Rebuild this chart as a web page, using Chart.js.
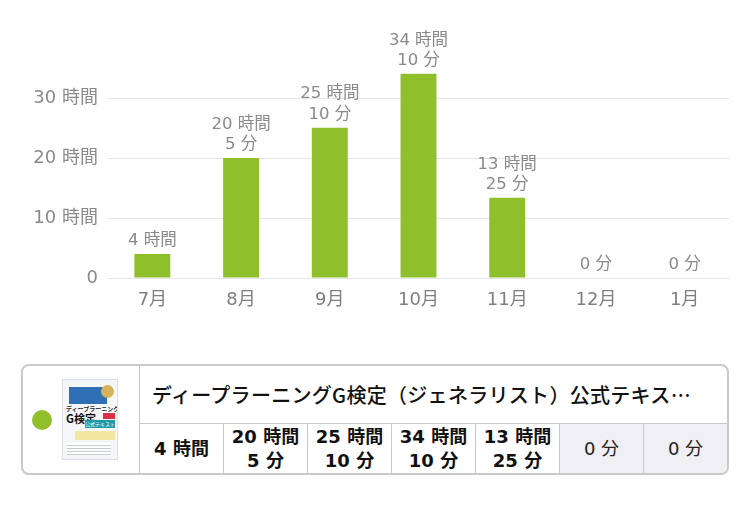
<!DOCTYPE html>
<html lang="ja">
<head>
<meta charset="utf-8">
<script src="https://cdn.jsdelivr.net/npm/chart.js@4"></script>
<style>
  html, body { margin: 0; padding: 0; background: #fff; }
  body { width: 750px; height: 506px; position: relative; overflow: hidden;
         font-family: "DejaVu Sans", "Noto Sans CJK JP", sans-serif; }
  #wrap { position: absolute; left: 0; top: 0; width: 750px; height: 330px; }
  .card { position: absolute; left: 21px; top: 364px; width: 704px; height: 107px;
          border: 2px solid #c9c9c9; border-radius: 8px; overflow: hidden; }
  .dot { position: absolute; left: 9px; top: 44px; width: 20px; height: 20px;
         border-radius: 50%; background: #8fc02c; }
  .cover { position: absolute; left: 39px; top: 13px; width: 56px; height: 81px;
           background: #f4f6f8; border: 1px solid #dde; box-sizing: border-box; overflow: hidden;
           font-family: "Noto Sans CJK JP", sans-serif; }
  .cover .blue { position: absolute; left: 6px; top: 7px; width: 38px; height: 17px; background: #2f6fb4; }
  .cover .gold { position: absolute; left: 38px; top: 5px; width: 13px; height: 13px; border-radius: 50%; background: #d6b35a; }
  .cover .t1 { position: absolute; left: 3px; top: 24px; font-size: 6px; font-weight: bold; white-space: nowrap; color: #222; }
  .cover .t2 { position: absolute; left: 3px; top: 30px; font-size: 11px; font-weight: bold; color: #111; }
  .cover .teal { position: absolute; left: 22px; top: 40px; width: 30px; height: 8px; background: #1f9aa5;
                 color: #fff; font-size: 5px; line-height: 8px; text-align: center; }
  .cover .red { position: absolute; left: 40px; top: 33px; width: 12px; height: 6px; background: #d9314a; }
  .cover .yel { position: absolute; left: 12px; top: 51px; width: 40px; height: 9px; background: #f3e6a0; }
  .cover .lines { position: absolute; left: 4px; top: 63px; width: 44px; height: 12px;
                  background: repeating-linear-gradient(#fff 0 2px, #c9cdd3 2px 3px); }
  .right { position: absolute; left: 116px; top: 0; right: 0; bottom: 0; border-left: 1px solid #c9c9c9; }
  .title { height: 57px; line-height: 57px; padding-left: 12px; padding-right: 28px; font-size: 20px;
           letter-spacing: 0.3px; font-weight: 500; color: #111; white-space: nowrap; overflow: hidden;
           text-overflow: ellipsis; border-bottom: 1px solid #c9c9c9; font-family: "Noto Sans CJK JP", sans-serif; }
  .cells { display: flex; height: 50px; }
  .cells div { flex: 1; display: flex; align-items: center; justify-content: center; text-align: center;
               font-size: 18px; font-weight: bold; line-height: 24px; color: #111; border-left: 1px solid #c9c9c9; }
  .cells div:first-child { border-left: none; }
  .cells div.zero { background: #efeff4; font-weight: normal; color: #222; }
</style>
</head>
<body>
<div id="wrap"><canvas id="chart"></canvas></div>
<div class="card">
  <div class="dot"></div>
  <div class="cover">
    <div class="blue"></div><div class="gold"></div>
    <div class="t1">ディープラーニング</div>
    <div class="t2">G検定</div>
    <div class="red"></div>
    <div class="teal">公式テキスト</div>
    <div class="yel"></div>
    <div class="lines"></div>
  </div>
  <div class="right">
    <div class="title" id="title"></div>
    <div class="cells" id="cells"></div>
  </div>
</div>
<script>
// values
var months = ["7月", "8月", "9月", "10月", "11月", "12月", "1月"];
var hours = [4, 20, 25, 34, 13, 0, 0];
var minutes = [0, 5, 10, 10, 25, 0, 0];
var yTicks = [0, 10, 20, 30];
var bookTitle = "ディープラーニングG検定（ジェネラリスト）公式テキスト 第2版";

var green = "#8fc02c";
var grey = "#8a8a8a";
var fam = "'DejaVu Sans', 'Noto Sans CJK JP'";

function timeLines(h, m) {
    var out = [];
    if (h > 0) out.push(h + " 時間");
    if (m > 0 || h === 0) out.push(m + " 分");
    return out;
}

var values = hours.map(function (h, i) { return h + minutes[i] / 60; });

// table under the chart
document.getElementById("title").textContent = bookTitle;
var cells = document.getElementById("cells");
months.forEach(function (mo, i) {
    var d = document.createElement("div");
    d.innerHTML = timeLines(hours[i], minutes[i]).join("<br>");
    if (values[i] === 0) d.className = "zero";
    cells.appendChild(d);
});

// labels over the bars
var barLabels = {
    id: "barLabels",
    afterDatasetsDraw: function (chart) {
        var c = chart.ctx;
        var meta = chart.getDatasetMeta(0);
        c.save();
        c.fillStyle = grey;
        c.font = "16.5px " + fam;
        c.textAlign = "center";
        c.textBaseline = "middle";
        meta.data.forEach(function (bar, i) {
            var lines = timeLines(hours[i], minutes[i]);
            var y = bar.y - 13;
            for (var k = lines.length - 1; k >= 0; k--) {
                c.fillText(lines[k], bar.x, y);
                y -= 20.5;
            }
        });
        c.restore();
    }
};

var ctx = document.getElementById("chart").getContext("2d");
new Chart(ctx, {
    type: "bar",
    data: {
        labels: months,
        datasets: [{
            data: values,
            backgroundColor: green,
            barPercentage: 0.405,
            categoryPercentage: 1.0
        }]
    },
    options: {
        responsive: true,
        maintainAspectRatio: false,
        animation: false,
        layout: { padding: { top: 39, right: 21, left: 0, bottom: 0 } },
        plugins: { legend: { display: false }, tooltip: { enabled: false } },
        scales: {
            x: {
                grid: { display: false, drawTicks: false },
                border: { display: false },
                ticks: { color: "#7f7f7f", font: { size: 18, family: fam }, padding: 12 },
                afterFit: function (s) { s.height = 52; }
            },
            y: {
                min: 0,
                max: 40,
                grid: {
                    drawTicks: false,
                    color: function (c) { return yTicks.indexOf(c.tick.value) >= 0 ? "#e6e6e6" : "rgba(0,0,0,0)"; }
                },
                border: { display: false },
                ticks: {
                    stepSize: 10,
                    padding: 10,
                    color: grey,
                    font: { size: 18, family: fam },
                    callback: function (v) {
                        if (yTicks.indexOf(v) < 0) return "";
                        return v === 0 ? "0" : v + " 時間";
                    }
                },
                afterFit: function (s) { s.width = 108; }
            }
        }
    },
    plugins: [barLabels]
});
</script>
</body>
</html>
